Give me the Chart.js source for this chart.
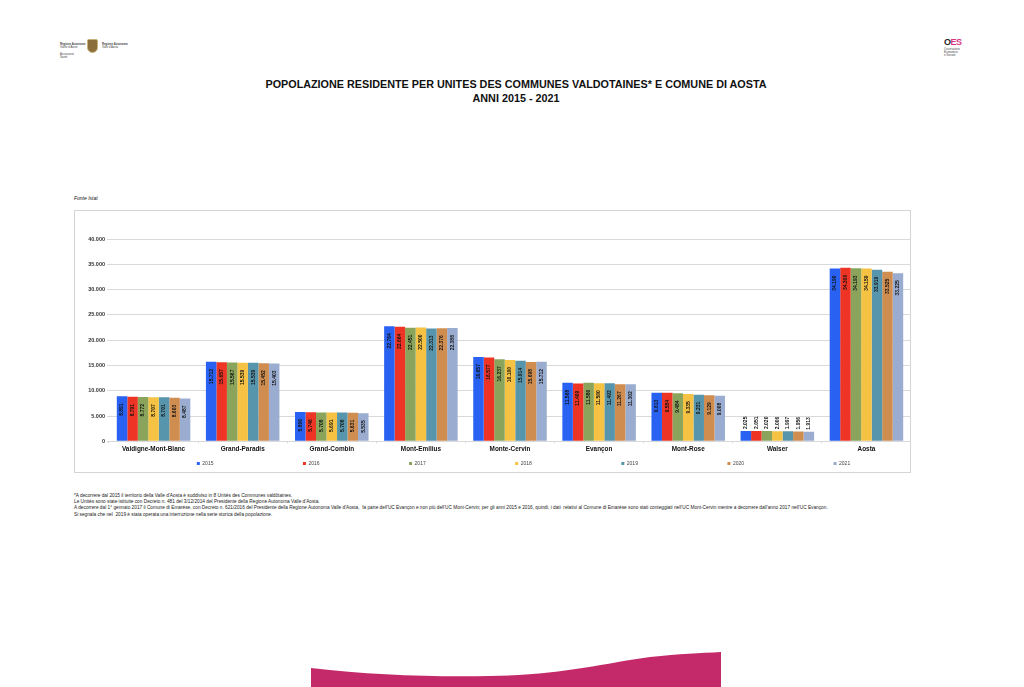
<!DOCTYPE html>
<html lang="it">
<head>
<meta charset="utf-8">
<title>Popolazione residente</title>
<script src="https://cdn.jsdelivr.net/npm/chart.js@4"></script>
<style>
  html, body { margin: 0; padding: 0; background: #fff; }
  body { width: 1024px; height: 687px; position: relative; overflow: hidden; font-family: "Liberation Sans", Arial, sans-serif; color: #111; }
  .title { position: absolute; left: 0; width: 1032px; top: 77px; text-align: center; font-size: 10.8px; line-height: 14px; font-weight: bold; }
  .source { position: absolute; left: 74px; top: 195px; font-size: 5px; font-style: italic; }
  .frame { position: absolute; left: 74px; top: 210px; width: 837px; height: 263px; border: 1px solid #d4d4d4; box-sizing: border-box; }
  .frame canvas { position: absolute; left: -1px; top: -1px; }
  .notes { position: absolute; left: 74px; top: 493px; font-size: 4.75px; line-height: 6.2px; white-space: nowrap; color: #222; }
  .logo-txt { position: absolute; font-size: 2.8px; line-height: 3.2px; color: #444; white-space: nowrap; }
  .crest { position: absolute; left: 87px; top: 39px; width: 11px; height: 14px; background: #8a6f3c; border-radius: 2px 2px 6px 6px; border: 1px solid #c9b27a; box-sizing: border-box; }
  .oes { position: absolute; left: 944px; top: 38px; font-size: 9px; line-height: 9px; font-weight: bold; color: #222; letter-spacing: -0.5px; }
  .oes span { color: #d8337e; }
  .wave { position: absolute; left: 0; top: 640px; }
</style>
</head>
<body>
<div class="logo-txt" style="left:60px;top:43px"><b>Regione Autonome</b><br>Vallée d'Aoste<br><br>Assessorat<br>Santé</div>
<div class="crest"></div>
<div class="logo-txt" style="left:102px;top:43px"><b>Regione Autonoma</b><br>Valle d'Aosta</div>
<div class="oes">O<span>ES</span></div>
<div class="logo-txt" style="left:944px;top:48px">Osservatorio<br>Economico<br>e Sociale</div>

<div class="title">POPOLAZIONE RESIDENTE PER UNITES DES COMMUNES VALDOTAINES* E COMUNE DI AOSTA<br>ANNI 2015 - 2021</div>
<div class="source">Fonte Istat</div>
<div class="frame"><canvas id="chart" width="837" height="263"></canvas></div>
<div class="notes">
*A decorrere dal 2015 il territorio della Valle d'Aosta è suddiviso in 8 Unités des Communes valdôtaines.<br>
Le Unités sono state istituite con Decreto n. 481 del 3/12/2014 del Presidente della Regione Autonoma Valle d'Aosta.<br>
A decorrere dal 1° gennaio 2017 il Comune di Emarèse, con Decreto n. 621/2016 del Presidente della Regione Autonoma Valle d'Aosta, &nbsp;fa parte dell'UC Evançon e non più dell'UC Mont-Cervin; per gli anni 2015 e 2016, quindi, i dati &nbsp;relativi al Comune di Emarèse sono stati conteggiati nell'UC Mont-Cervin mentre a decorrere dall'anno 2017 nell'UC Evançon.<br>
Si segnala che nel &nbsp;2019 è stata operata una interruzione nella serie storica della popolazione.
</div>
<svg class="wave" width="1024" height="47"><path d="M311 28 C 370 35 430 37 490 36 C 560 35 600 24 650 17 C 680 14 700 13 721 12 L721 47 L311 47 Z" fill="#c42a6a"/></svg>

<script>
  // ── Data ───────────────────────────────────────────────────────────────────
  const categories = ['Valdigne-Mont-Blanc', 'Grand-Paradis', 'Grand-Combin', 'Mont-Emilius', 'Monte-Cervin', 'Evançon', 'Mont-Rose', 'Walser', 'Aosta'];
  const years = ['2015', '2016', '2017', '2018', '2019', '2020', '2021'];

  const v2015 = [8891, 15712, 5806, 22764, 16657, 11568, 9613, 2025, 34190];
  const v2016 = [8791, 15657, 5746, 22664, 16577, 11409, 9584, 2051, 34300];
  const v2017 = [8772, 15567, 5708, 22451, 16237, 11580, 9484, 2020, 34193];
  const v2018 = [8707, 15539, 5691, 22500, 16100, 11500, 9335, 2006, 34159];
  const v2019 = [8701, 15539, 5708, 22313, 15914, 11492, 9231, 1997, 33919];
  const v2020 = [8603, 15452, 5631, 22376, 15698, 11267, 9129, 1956, 33525];
  const v2021 = [8487, 15403, 5535, 22388, 15712, 11302, 9008, 1913, 33225];
  const series = [v2015, v2016, v2017, v2018, v2019, v2020, v2021];

  const colors = ['#2962f2', '#ee3424', '#8aa55b', '#f6c243', '#5795ad', '#cf8d50', '#9aadd0'];
  const yTicks = [0, 5000, 10000, 15000, 20000, 25000, 30000, 35000, 40000];

  const LEGEND_PAD = 89.5;

  function fmt(n) {
    return String(n).replace(/\B(?=(\d{3})+$)/g, '.');
  }

  // ── Rotated value labels, inside the bar top (above it on short bars) ──────
  const barLabels = {
    id: 'barLabels',
    afterDatasetsDraw(chart) {
      const ctx = chart.ctx;
      ctx.save();
      ctx.font = 'bold 5px "Liberation Sans"';
      ctx.fillStyle = '#111';
      ctx.textBaseline = 'middle';
      chart.data.datasets.forEach((ds, i) => {
        chart.getDatasetMeta(i).data.forEach((bar, j) => {
          const short = ds.data[j] < 3000;
          ctx.save();
          ctx.translate(bar.x, short ? bar.y - 2 : bar.y + 7);
          ctx.rotate(-Math.PI / 2);
          ctx.textAlign = short ? 'left' : 'right';
          ctx.fillText(fmt(ds.data[j]), 0, 0);
          ctx.restore();
        });
      });
      ctx.restore();
    }
  };

  // the reference legend sits right of the frame centre, and its wide item
  // padding must not push the plot up
  const legendShift = {
    id: 'legendShift',
    afterLayout(chart) {
      chart.legend.left += 31;
      chart.legend.right += 31;
      chart.legend.top = 251 - LEGEND_PAD;
    }
  };

  new Chart(document.getElementById('chart'), {
    type: 'bar',
    data: {
      labels: categories,
      datasets: series.map((data, i) => ({
        label: years[i],
        data,
        backgroundColor: colors[i],
        barPercentage: 1,
        categoryPercentage: 0.825
      }))
    },
    plugins: [barLabels, legendShift],
    options: {
      responsive: false,
      animation: false,
      layout: { padding: { top: 29, right: 0, left: 0, bottom: 0 } },
      plugins: {
        tooltip: { enabled: false },
        title: { display: false },
        legend: {
          position: 'bottom',
          maxHeight: 18,
          labels: {
            usePointStyle: true,
            pointStyle: 'rect',
            boxWidth: 3,
            boxHeight: 3,
            padding: LEGEND_PAD,
            color: '#444',
            font: { size: 5, family: '"Liberation Sans"' }
          }
        }
      },
      scales: {
        x: {
          grid: { display: true, drawOnChartArea: false, drawTicks: true, tickLength: 2, color: '#d9d9d9' },
          border: { color: '#d9d9d9' },
          ticks: { color: '#111', maxRotation: 0, padding: 2, font: { size: 6.4, weight: 'bold', family: '"Liberation Sans"' } }
        },
        y: {
          min: 0,
          max: 40000,
          afterBuildTicks(axis) { axis.ticks = yTicks.map(value => ({ value })); },
          afterFit(axis) { axis.width = 35; },
          grid: { color: '#d9d9d9', lineWidth: 1, tickLength: 2 },
          border: { display: false },
          ticks: { color: '#333', padding: 2, font: { size: 5.5, weight: 'bold', family: '"Liberation Sans"' }, callback: v => fmt(v) }
        }
      }
    }
  });
</script>
</body>
</html>
